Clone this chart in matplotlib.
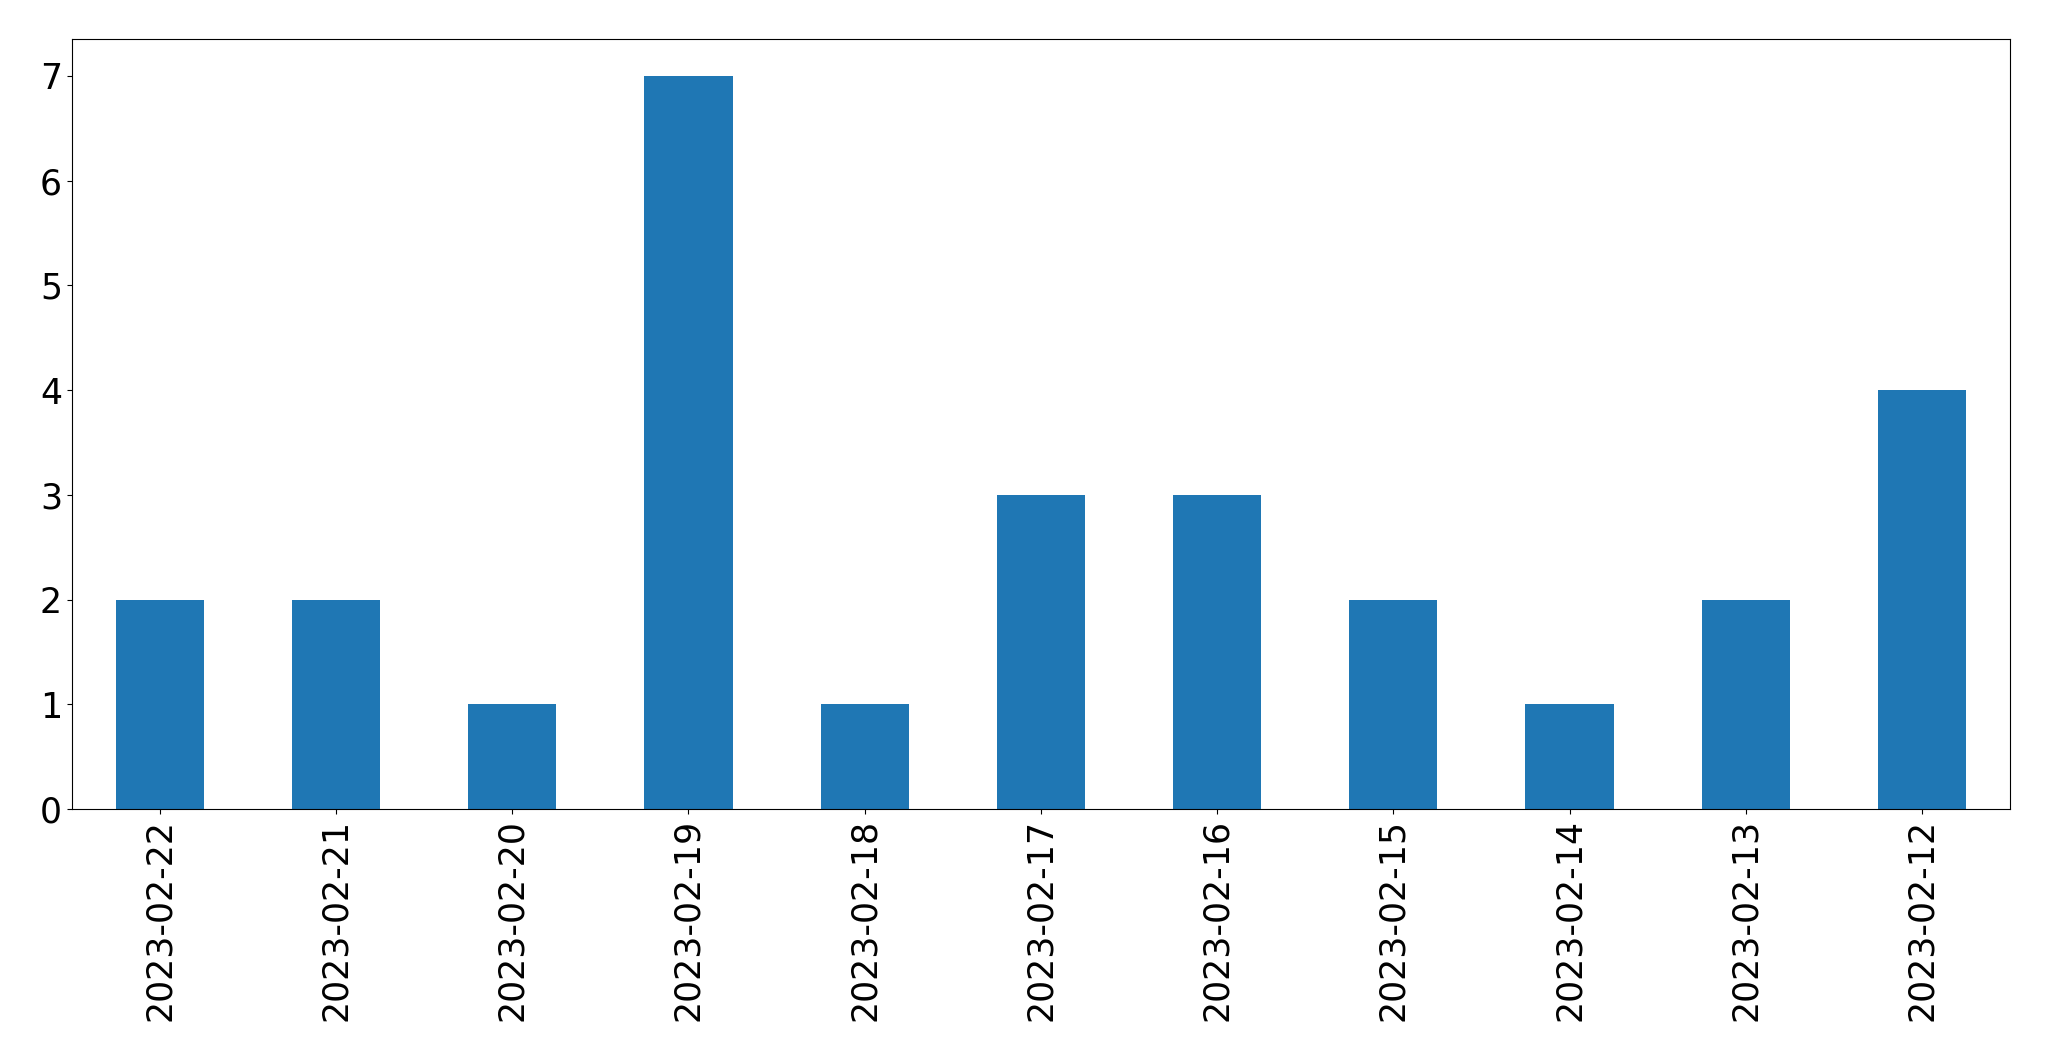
import matplotlib
matplotlib.use("Agg")
import matplotlib.pyplot as plt
import pandas as pd

# daily counts, newest first (as in the original series)
dates = ["2023-02-22", "2023-02-21", "2023-02-20", "2023-02-19", "2023-02-18",
         "2023-02-17", "2023-02-16", "2023-02-15", "2023-02-14", "2023-02-13",
         "2023-02-12"]
counts = [2, 2, 1, 7, 1, 3, 3, 2, 1, 2, 4]

s = pd.Series(counts, index=dates)

fig, ax = plt.subplots(figsize=(20.49, 10.61), dpi=100)
s.plot(kind="bar", ax=ax, color="#1f77b4", width=0.5)
ax.tick_params(axis="both", labelsize=25)
ax.set_ylim(0, 7.35)
fig.subplots_adjust(left=0.035, right=0.981, top=0.963, bottom=0.2375)
fig.savefig("out.png", dpi=100)
